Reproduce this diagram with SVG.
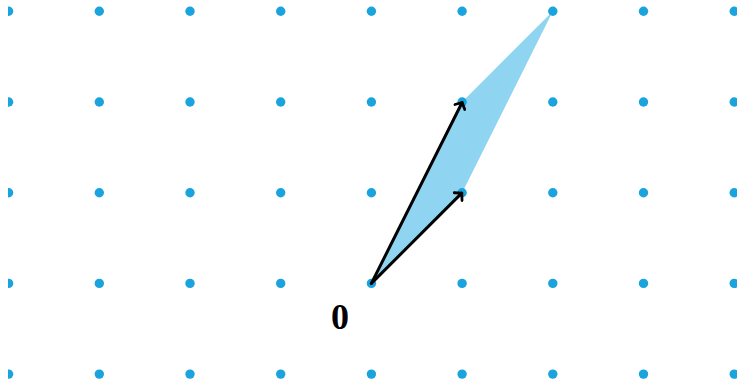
<svg xmlns="http://www.w3.org/2000/svg" width="737" height="382" viewBox="0 0 737 382">
<defs>
<style>
.dot{fill:#1ba3dd}
.vec{fill:none;stroke:#000;stroke-width:3;stroke-linecap:round;marker-end:url(#ah)}
.lbl{font-family:"Liberation Serif","DejaVu Serif",serif;font-weight:bold;font-size:36px;fill:#000}
</style>
<marker id="ah" viewBox="-7 -7 14 14" markerWidth="14" markerHeight="14" refX="0" refY="0" orient="auto" markerUnits="userSpaceOnUse">
<path d="M-5,-5.5 L0,0 L-5,5.5" fill="none" stroke="#000" stroke-width="2.8" stroke-linecap="round" stroke-linejoin="round"/>
</marker>
<clipPath id="c"><rect x="8" y="0" width="729" height="382"/></clipPath>
</defs>
<rect width="737" height="382" fill="#fff"/>
<g id="region">
<polygon points="371.4,283.4 462.1,192.7 552.8,11.3 462.1,102" fill="#8fd4f1"/>
</g>
<g id="grid" clip-path="url(#c)">
<g id="row0"><circle class="dot" cx="8.6" cy="11.3" r="4.7"/><circle class="dot" cx="99.3" cy="11.3" r="4.7"/><circle class="dot" cx="190" cy="11.3" r="4.7"/><circle class="dot" cx="280.7" cy="11.3" r="4.7"/><circle class="dot" cx="371.4" cy="11.3" r="4.7"/><circle class="dot" cx="462.1" cy="11.3" r="4.7"/><circle class="dot" cx="552.8" cy="11.3" r="4.7"/><circle class="dot" cx="643.5" cy="11.3" r="4.7"/><circle class="dot" cx="734.2" cy="11.3" r="4.7"/></g>
<g id="row1"><circle class="dot" cx="8.6" cy="102" r="4.7"/><circle class="dot" cx="99.3" cy="102" r="4.7"/><circle class="dot" cx="190" cy="102" r="4.7"/><circle class="dot" cx="280.7" cy="102" r="4.7"/><circle class="dot" cx="371.4" cy="102" r="4.7"/><circle class="dot" cx="462.1" cy="102" r="4.7"/><circle class="dot" cx="552.8" cy="102" r="4.7"/><circle class="dot" cx="643.5" cy="102" r="4.7"/><circle class="dot" cx="734.2" cy="102" r="4.7"/></g>
<g id="row2"><circle class="dot" cx="8.6" cy="192.7" r="4.7"/><circle class="dot" cx="99.3" cy="192.7" r="4.7"/><circle class="dot" cx="190" cy="192.7" r="4.7"/><circle class="dot" cx="280.7" cy="192.7" r="4.7"/><circle class="dot" cx="371.4" cy="192.7" r="4.7"/><circle class="dot" cx="462.1" cy="192.7" r="4.7"/><circle class="dot" cx="552.8" cy="192.7" r="4.7"/><circle class="dot" cx="643.5" cy="192.7" r="4.7"/><circle class="dot" cx="734.2" cy="192.7" r="4.7"/></g>
<g id="row3"><circle class="dot" cx="8.6" cy="283.4" r="4.7"/><circle class="dot" cx="99.3" cy="283.4" r="4.7"/><circle class="dot" cx="190" cy="283.4" r="4.7"/><circle class="dot" cx="280.7" cy="283.4" r="4.7"/><circle class="dot" cx="371.4" cy="283.4" r="4.7"/><circle class="dot" cx="462.1" cy="283.4" r="4.7"/><circle class="dot" cx="552.8" cy="283.4" r="4.7"/><circle class="dot" cx="643.5" cy="283.4" r="4.7"/><circle class="dot" cx="734.2" cy="283.4" r="4.7"/></g>
<g id="row4"><circle class="dot" cx="8.6" cy="374.1" r="4.7"/><circle class="dot" cx="99.3" cy="374.1" r="4.7"/><circle class="dot" cx="190" cy="374.1" r="4.7"/><circle class="dot" cx="280.7" cy="374.1" r="4.7"/><circle class="dot" cx="371.4" cy="374.1" r="4.7"/><circle class="dot" cx="462.1" cy="374.1" r="4.7"/><circle class="dot" cx="552.8" cy="374.1" r="4.7"/><circle class="dot" cx="643.5" cy="374.1" r="4.7"/><circle class="dot" cx="734.2" cy="374.1" r="4.7"/></g>
</g>
<g id="connectors">
<line class="vec" x1="371.4" y1="283.4" x2="462.1" y2="102.5"/>
<line class="vec" x1="371.4" y1="283.4" x2="461.7" y2="193.1"/>
</g>
<g id="origin-label">
<text class="lbl" x="340" y="329" text-anchor="middle">0</text>
</g>
</svg>
